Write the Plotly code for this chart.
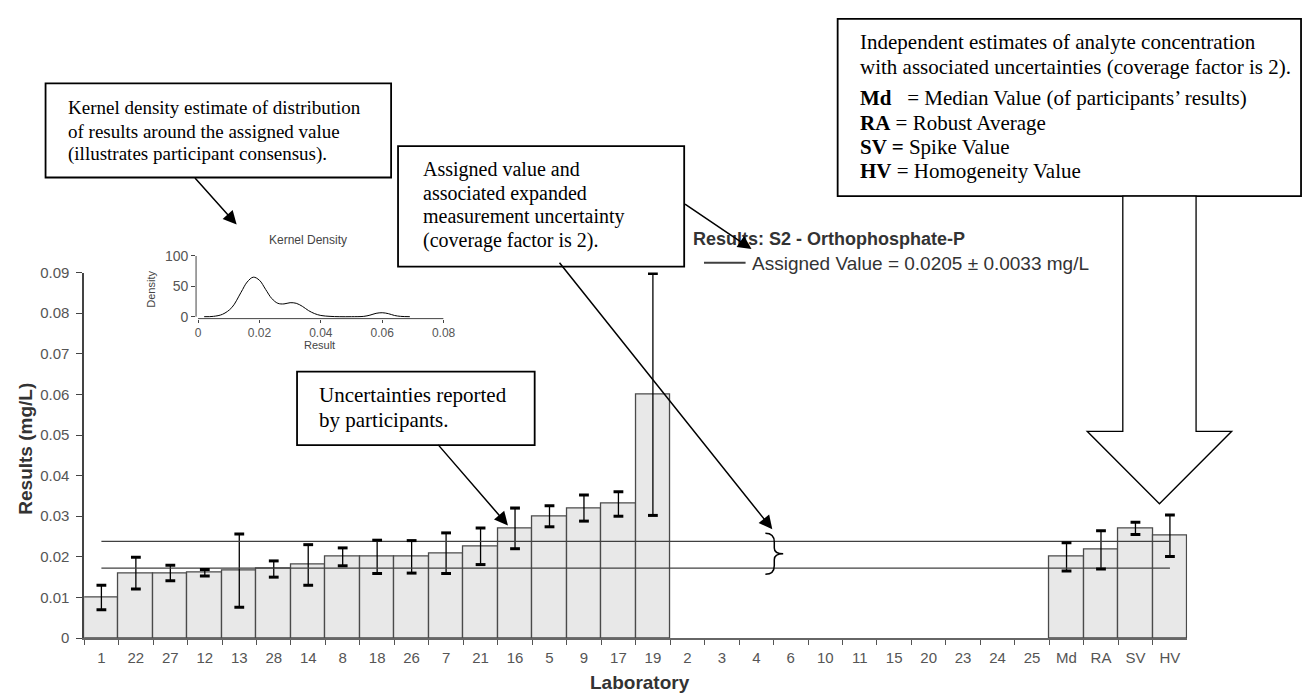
import plotly.graph_objects as go

W, H = 1316, 696

# ---- data -------------------------------------------------------------
labs = ["1", "22", "27", "12", "13", "28", "14", "8", "18", "26", "7", "21", "16",
        "5", "9", "17", "19", "2", "3", "4", "6", "10", "11", "15", "20", "23",
        "24", "25", "Md", "RA", "SV", "HV"]
results = [0.0100, 0.0160, 0.0160, 0.0161, 0.0166, 0.0170, 0.0180, 0.0200, 0.0200,
           0.0200, 0.0209, 0.0226, 0.0270, 0.0300, 0.0320, 0.0330, 0.0600,
           None, None, None, None, None, None, None, None, None, None, None,
           0.0200, 0.0217, 0.0270, 0.0252]
uncert = [0.0030, 0.0039, 0.0019, 0.0008, 0.0090, 0.0020, 0.0050, 0.0022, 0.0041,
          0.0040, 0.0050, 0.0045, 0.0050, 0.0026, 0.0032, 0.0030, 0.0298,
          None, None, None, None, None, None, None, None, None, None, None,
          0.0035, 0.0047, 0.0015, 0.0051]
assigned = 0.0205
assigned_u = 0.0033

# kernel density curve of participants' results
kde_x = [0.002, 0.005, 0.008, 0.011, 0.014, 0.016, 0.018, 0.020, 0.022, 0.024,
         0.026, 0.028, 0.030, 0.032, 0.034, 0.036, 0.038, 0.040, 0.043, 0.046,
         0.050, 0.054, 0.056, 0.058, 0.060, 0.062, 0.064, 0.066, 0.069]
kde_y = [0.0, 0.5, 4.0, 15.0, 40.0, 57.0, 65.0, 60.0, 45.0, 30.0,
         22.0, 21.0, 23.0, 22.0, 17.0, 10.0, 5.0, 2.0, 0.5, 0.0,
         0.0, 0.5, 2.5, 5.5, 6.5, 5.0, 2.0, 0.5, 0.0]
kde_xticks = [0, 0.02, 0.04, 0.06, 0.08]
kde_yticks = [0, 50, 100]


def fx(p):
    """pixel column -> paper x"""
    return p / W


def fy(p):
    """pixel row -> paper y"""
    return 1 - p / H


SANS = "Liberation Sans, Arial, sans-serif"
NARROW = "Liberation Sans Narrow, Arial Narrow, Liberation Sans, Arial, sans-serif"
SERIF = "Liberation Serif, Times New Roman, serif"

fig = go.Figure()

# bars with reported uncertainties
fig.add_bar(
    x=labs, y=results, width=1,
    marker=dict(color="#e8e8e8", line=dict(color="#4a4a4a", width=1.3)),
    error_y=dict(type="data", array=uncert, color="black", thickness=1.3, width=0),
    showlegend=False, hoverinfo="x+y",
)

# assigned value band limits
for yv in (assigned + assigned_u, assigned - assigned_u):
    fig.add_scatter(x=[labs[0], labs[-1]], y=[yv, yv], mode="lines",
                    line=dict(color="#404040", width=1.3), showlegend=False)

# error bar caps
cap_x, cap_y = [], []
for lab, r, u in zip(labs, results, uncert):
    if r is None:
        continue
    cap_x += [lab, lab]
    cap_y += [r + u, r - u]
fig.add_scatter(x=cap_x, y=cap_y, mode="markers",
                marker=dict(symbol="line-ew", size=7, color="black",
                            line=dict(width=3, color="black")),
                showlegend=False)

# kernel density inset
fig.add_scatter(x=kde_x, y=kde_y, mode="lines", line=dict(color="black", width=1, shape="spline"),
                xaxis="x2", yaxis="y2", showlegend=False)

axis_font = dict(family=SANS, size=15, color="#555555")

fig.update_layout(
    width=W, height=H, margin=dict(l=0, r=0, t=0, b=0),
    paper_bgcolor="white", plot_bgcolor="rgba(0,0,0,0)",
    bargap=0, showlegend=False,
    xaxis=dict(domain=[fx(84), fx(1198)], type="category", range=[-0.5, len(labs) - 0.5],
               tickson="boundaries", ticks="outside", ticklen=5, tickcolor="#555555",
               showline=True, linecolor="#666666", linewidth=2, showgrid=False,
               tickfont=dict(family=NARROW, size=15, color="#555555"),
               ticklabelstandoff=5, automargin=False),
    yaxis=dict(domain=[fy(643), fy(270)], range=[0, 0.09], dtick=0.01,
               ticks="outside", ticklen=6, tickcolor="#444444", showline=True,
               linecolor="#444444", linewidth=1.5, showgrid=False, zeroline=False,
               tickfont=axis_font, ticklabelstandoff=4, automargin=False),
    xaxis2=dict(domain=[fx(197), fx(447)], anchor="y2", range=[-0.00065, 0.08],
                tickvals=kde_xticks, ticktext=[("%g" % v) for v in kde_xticks],
                ticks="outside", ticklen=3, tickcolor="#444444", showline=False,
                showgrid=False, zeroline=False, ticklabelstandoff=0,
                tickfont=dict(family=SANS, size=12, color="#555555")),
    yaxis2=dict(domain=[fy(317), fy(253)], anchor="x2", range=[-3.2, 100],
                tickvals=kde_yticks, ticks="outside", ticklen=4, tickcolor="#444444",
                showline=False, showgrid=False, zeroline=False,
                tickfont=dict(family=SANS, size=14, color="#555555")),
)

shapes = []
ann = []


def label(text, x, y, size, color="#444444", family=SANS, angle=0, anchor="center"):
    ann.append(dict(text=text, x=fx(x), y=fy(y), xref="paper", yref="paper",
                    xanchor=anchor, yanchor="middle", textangle=angle, showarrow=False,
                    font=dict(family=family, size=size, color=color)))


# inset axis lines (span first to last tick)
shapes.append(dict(type="line", xref="x2", yref="paper", x0=0, x1=0.08,
                   y0=fy(317), y1=fy(317), line=dict(color="#444444", width=1)))
shapes.append(dict(type="line", xref="paper", yref="y2", x0=fx(197), x1=fx(197),
                   y0=0, y1=100, line=dict(color="#444444", width=1)))
label("Kernel Density", 310, 237, 12)
label("Result", 322, 344, 11)
label("Density", 152, 287, 11, angle=-90)

# axis titles
label("<b>Results (mg/L)</b>", 25, 450, 19, color="#333333", angle=-90)
label("<b>Laboratory</b>", 645, 688, 19, color="#333333")

# chart title and legend entry
label("<b>Results: S2 - Orthophosphate-P</b>", 697, 236, 18, color="#333333", anchor="left")
shapes.append(dict(type="line", xref="paper", yref="paper", x0=fx(710), x1=fx(752),
                   y0=fy(260), y1=fy(260), line=dict(color="#404040", width=2)))
label("Assigned Value = %.4f \u00b1 %.4f mg/L" % (assigned, assigned_u),
      756, 261, 19, color="#333333", anchor="left")


def box(x0, y0, x1, y1):
    shapes.append(dict(type="rect", xref="paper", yref="paper", layer="above",
                       x0=fx(x0), x1=fx(x1), y0=fy(y0), y1=fy(y1),
                       line=dict(color="black", width=1.8), fillcolor="white"))


def lines(x, ys, texts, size):
    for yy, t in zip(ys, texts):
        label(t, x, yy, size, color="black", family=SERIF, anchor="left")


def arrow(tail, tip):
    ann.append(dict(text="", x=fx(tip[0]), y=fy(tip[1]), xref="paper", yref="paper",
                    ax=tail[0] - tip[0], ay=tail[1] - tip[1], showarrow=True,
                    arrowhead=2, arrowsize=1.8, arrowwidth=1.5, arrowcolor="black",
                    standoff=0, startstandoff=0))


# callout: kernel density
box(45, 77, 394, 173)
lines(66, [102, 126, 149],
      ["Kernel density estimate of distribution",
       "of results around the assigned value",
       "(illustrates participant consensus)."], 19)
arrow((195, 173), (238, 221))

# callout: assigned value
box(401, 141, 690, 264)
lines(424, [165, 189, 213, 237],
      ["Assigned value and", "associated expanded",
       "measurement uncertainty", "(coverage factor is 2)."], 20)
arrow((565, 264), (779, 532))
arrow((690, 200), (758, 246))

# callout: participant uncertainties
box(299, 371, 539, 446)
lines(319, [395, 420], ["Uncertainties reported", "by participants."], 21)
arrow((441, 446), (512, 528))

# callout: independent estimates
box(845, 11, 1313, 192)
nb = "\u00a0"
lines(866, [35, 60, 92, 117, 142, 166],
      ["Independent estimates of analyte concentration",
       "with associated uncertainties (coverage factor is 2).",
       "<b>Md</b>" + nb * 3 + "= Median Value (of participants\u2019 results)",
       "<b>RA</b> = Robust Average",
       "<b>SV =</b> Spike Value",
       "<b>HV</b> = Homogeneity Value"], 21)

# block arrow below the estimates callout
pts = [(1133, 192), (1207, 192), (1207, 432), (1243, 432), (1170, 506), (1097, 432), (1133, 432)]
path = "M " + " L ".join("%.5f,%.5f" % (fx(a), fy(b)) for a, b in pts) + " Z"
shapes.append(dict(type="path", xref="paper", yref="paper", path=path, layer="above",
                   fillcolor="white", line=dict(color="black", width=1.3)))

# brace marking the assigned value interval
bx, by0, by1 = 772, 536, 578
bm = (by0 + by1) / 2
brace = [
    "M %.5f,%.5f" % (fx(bx), fy(by0)),
    "Q %.5f,%.5f %.5f,%.5f" % (fx(bx + 9), fy(by0), fx(bx + 9), fy(by0 + 9)),
    "L %.5f,%.5f" % (fx(bx + 9), fy(bm - 6)),
    "Q %.5f,%.5f %.5f,%.5f" % (fx(bx + 9), fy(bm), fx(bx + 18), fy(bm)),
    "Q %.5f,%.5f %.5f,%.5f" % (fx(bx + 9), fy(bm), fx(bx + 9), fy(bm + 6)),
    "L %.5f,%.5f" % (fx(bx + 9), fy(by1 - 9)),
    "Q %.5f,%.5f %.5f,%.5f" % (fx(bx + 9), fy(by1), fx(bx), fy(by1)),
]
shapes.append(dict(type="path", xref="paper", yref="paper", path=" ".join(brace),
                   line=dict(color="black", width=1.5)))

fig.update_layout(shapes=shapes, annotations=ann)
fig.write_html("out.html")
